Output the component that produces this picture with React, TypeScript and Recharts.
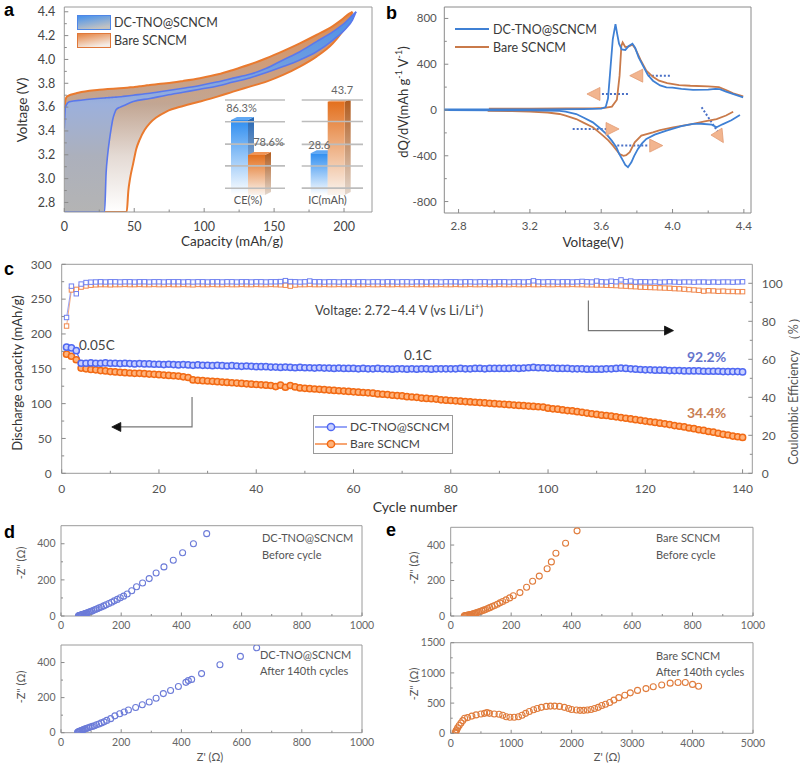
import React from 'react';
import {
  ComposedChart, BarChart, Area, Line, Bar, Scatter, XAxis, YAxis,
  ReferenceArea, ReferenceLine, Legend, LabelList,
} from 'recharts';

const FONT = 'Lato, "Open Sans", "DejaVu Sans", sans-serif';

// ---------------- Panel a: charge / discharge profiles ----------------
const aBareCap = [0, 0.8, 2, 10, 25, 44.6, 45.8, 47, 49.3, 51.5, 54, 57.5, 61.2, 66, 73, 85, 97, 110, 120.7, 132, 144.5, 156.4, 168.4, 180.3, 192, 198, 204, 206];
const aBareCharge = [3.5, 3.66, 3.69, 3.72, 3.745, 3.763, 3.764, 3.766, 3.767, 3.77, 3.775, 3.78, 3.786, 3.792, 3.8, 3.82, 3.843, 3.875, 3.912, 3.955, 4.01, 4.07, 4.135, 4.205, 4.28, 4.33, 4.387, 4.4];
const aBareDischarge = [2.72, 2.72, 2.72, 2.72, 2.72, 2.72, 2.9, 3.0, 3.13, 3.25, 3.33, 3.41, 3.466, 3.515, 3.563, 3.61, 3.647, 3.69, 3.73, 3.77, 3.814, 3.87, 3.94, 4.024, 4.135, 4.22, 4.33, 4.4];
const aDcCap = [0, 0.8, 3.6, 13, 28.8, 29.9, 31, 32.3, 33.5, 34.6, 36, 37, 40, 42.2, 49.3, 61.2, 73, 85, 97, 108.8, 120.7, 132.6, 144.5, 156.4, 168.4, 180.3, 192.1, 201.4, 206, 208.6];
const aDcCharge = [3.42, 3.6, 3.645, 3.66, 3.677, 3.678, 3.679, 3.68, 3.681, 3.682, 3.683, 3.684, 3.687, 3.69, 3.7, 3.717, 3.737, 3.759, 3.782, 3.81, 3.843, 3.875, 3.926, 3.996, 4.065, 4.149, 4.233, 4.316, 4.37, 4.4];
const aDcDischarge = [2.72, 2.72, 2.72, 2.72, 2.72, 3.048, 3.2, 3.326, 3.42, 3.494, 3.55, 3.577, 3.6, 3.611, 3.647, 3.672, 3.7, 3.725, 3.75, 3.775, 3.81, 3.845, 3.89, 3.94, 3.996, 4.065, 4.163, 4.26, 4.33, 4.4];
const aTicksX = [0, 25, 50, 75, 100, 125, 150, 175, 200];
const aMajorX = [0, 50, 100, 150, 200];
const aTicksY = [2.8, 2.9, 3.0, 3.1, 3.2, 3.3, 3.4, 3.5, 3.6, 3.7, 3.8, 3.9, 4.0, 4.1, 4.2, 4.3, 4.4];
const aMajorY = [2.8, 3.0, 3.2, 3.4, 3.6, 3.8, 4.0, 4.2, 4.4];

// insets
const ceCats = ['CE(%)'];
const ceDc = [86.3];
const ceBare = [78.6];
const ceGrid = [71.3, 76.2, 81.0, 85.9, 90.7];
const icCats = ['IC(mAh)'];
const icDc = [28.6];
const icBare = [43.7];
const icGrid = [18.4, 24.9, 31.2, 37.9, 44.2];

// ---------------- Panel b: dQ/dV ----------------
const bDcUpV = [2.72, 3.0, 3.3, 3.5, 3.6, 3.625, 3.638, 3.65, 3.665, 3.68, 3.69, 3.7, 3.715, 3.735, 3.755, 3.775, 3.79, 3.81, 3.834, 3.86, 3.89, 3.93, 3.966, 4.0, 4.05, 4.115, 4.2, 4.24, 4.265, 4.3, 4.35, 4.396];
const bDcUpQ = [5, 5, 6, 8, 12, 25, 100, 330, 620, 750, 660, 580, 530, 525, 560, 580, 545, 460, 387, 310, 256, 215, 198, 195, 185, 175, 178, 185, 183, 160, 135, 110];
const bDcLowV = [4.378, 4.33, 4.28, 4.247, 4.22, 4.16, 4.115, 4.05, 3.966, 3.9, 3.853, 3.83, 3.806, 3.785, 3.769, 3.75, 3.735, 3.722, 3.7, 3.685, 3.66, 3.628, 3.59, 3.553, 3.5, 3.46, 3.4, 3.366, 3.2, 3.0, 2.72];
const bDcLowQ = [-44, -90, -125, -151, -128, -120, -122, -140, -180, -215, -253, -290, -340, -400, -457, -500, -480, -442, -380, -326, -270, -209, -155, -108, -65, -35, -15, -8, -4, -2, -1];
const bBareUpV = [2.97, 3.2, 3.4, 3.55, 3.62, 3.66, 3.688, 3.703, 3.713, 3.72, 3.735, 3.755, 3.775, 3.79, 3.82, 3.853, 3.89, 3.924, 3.97, 4.037, 4.1, 4.2, 4.26, 4.3, 4.34, 4.396];
const bBareUpQ = [12, 12, 13, 15, 18, 30, 90, 300, 560, 590, 550, 555, 570, 540, 440, 343, 290, 256, 235, 218, 212, 207, 200, 175, 145, 120];
const bBareLowV = [4.34, 4.3, 4.247, 4.18, 4.115, 4.003, 3.93, 3.89, 3.825, 3.788, 3.76, 3.74, 3.725, 3.703, 3.685, 3.666, 3.64, 3.61, 3.58, 3.553, 3.5, 3.46, 3.4, 3.366, 3.3, 3.2, 3.1, 2.963];
const bBareLowQ = [-15, -48, -79, -100, -122, -151, -175, -195, -224, -282, -369, -395, -400, -385, -350, -311, -265, -224, -185, -151, -110, -79, -50, -35, -22, -14, -10, -8];
const bArrowLines = [
  [[3.75, 140], [3.59, 140]],
  [[3.985, 300], [3.855, 300]],
  [[3.44, -166], [3.63, -166]],
  [[3.69, -311], [3.87, -311]],
  [[4.163, 24], [4.256, -195]],
];
const bArrowHeads = [
  [3.52, 140, 180],
  [3.76, 300, 180],
  [3.7, -166, 0],
  [3.945, -311, 0],
  [4.285, -285, 58],
];
const bTicksX = [2.8, 3.0, 3.2, 3.4, 3.6, 3.8, 4.0, 4.2, 4.4];
const bMajorX = [2.8, 3.2, 3.6, 4.0, 4.4];
const bTicksY = [-800, -600, -400, -200, 0, 200, 400, 600, 800];
const bMajorY = [-800, -400, 0, 400, 800];

// ---------------- Panel c: cycling ----------------
const cCycles = Array.from({ length: 140 }, (_, i) => i + 1);
const cDcCap = [
  181, 180, 176, 158, 158, 158.5, 158, 158, 158.5, 158,
  158, 157.5, 158, 157.5, 157, 157.5, 157, 157, 156.5, 156.5,
  156, 156.5, 156, 155.5, 156, 155.5, 155, 155.5, 155, 155,
  154.5, 155, 154.5, 154, 154.5, 154, 153.5, 154, 153.5, 153,
  153, 153, 152.5, 152.5, 152, 152.5, 152, 151.5, 152, 151.5,
  151.5, 151, 151.5, 151, 151, 150.5, 151, 150.5, 150.5, 150.5,
  150, 150.5, 150, 150, 150.5, 150, 150, 149.5, 150, 150,
  149.5, 150, 149.5, 150, 150, 149.5, 150, 150, 150, 150,
  150, 150.5, 150, 150, 150.5, 150.5, 150, 150.5, 150.5, 150.5,
  150.5, 150.5, 151, 150.5, 151, 151.5, 152, 151.5, 151.5, 151,
  151, 150.5, 150.5, 150.5, 150, 150, 150, 149.5, 149.5, 149.5,
  149.5, 150, 150, 150.5, 151, 150.5, 150, 149.5, 149, 148.5,
  148.5, 148, 148, 148, 147.5, 147.5, 147.5, 147, 147, 147,
  147, 146.5, 146.5, 146.5, 146.5, 146, 146, 146, 146, 145.5,
];
const cBareCap = [
  171, 168, 163, 151, 150, 149, 148.5, 147.5, 147, 146,
  145.5, 145, 144.5, 144, 143.5, 143.5, 143, 142.5, 142, 141.5,
  141, 140.5, 140, 139.5, 138.5, 137.5, 134, 133.5, 133, 132.5,
  132, 131.5, 131, 130.5, 130, 129.5, 129, 128.5, 128, 127.5,
  127, 126.5, 126, 124.5, 126.5, 123.5, 126, 124, 122.5, 122,
  121.5, 121, 120.5, 120, 119.5, 119, 118.5, 118, 117.5, 117,
  116.5, 116, 115.5, 115, 114, 113.5, 113, 112, 111.5, 111,
  110, 109.5, 109, 108, 107.5, 107, 106.5, 105.5, 105, 104.5,
  104, 103.5, 103, 102.5, 102, 101.5, 101, 100.5, 100, 99.5,
  99, 98.5, 98, 97.5, 97, 96.5, 96, 95.5, 95, 93.5,
  92.5, 92, 91, 90, 89.5, 88.5, 87.5, 86.5, 85.5, 84.5,
  83.5, 83, 82, 81, 80, 79, 78, 77, 76, 75,
  74, 73, 72, 71, 70, 68.5, 67.5, 66.5, 65, 64,
  62.5, 61.5, 60, 59, 57.5, 56, 55, 53.5, 52.5, 51.5,
];
const cDcCE = [
  82.0, 98.5, 94.5, 99.6, 100.4, 100.6, 100.7, 100.8, 100.7, 100.8,
  100.8, 100.7, 100.8, 100.8, 100.7, 100.8, 100.8, 100.7, 100.8, 100.8,
  100.7, 100.8, 100.8, 100.8, 100.7, 100.8, 100.7, 100.8, 100.8, 100.7,
  100.8, 100.8, 100.7, 100.8, 100.8, 100.7, 100.8, 100.8, 100.7, 100.8,
  100.8, 100.7, 100.8, 100.8, 100.9, 101.4, 100.9, 100.8, 100.7, 100.8,
  101.2, 100.8, 100.8, 100.7, 100.8, 100.8, 100.7, 100.8, 100.8, 100.7,
  100.8, 100.8, 100.7, 100.8, 100.8, 100.7, 100.8, 100.8, 100.7, 100.8,
  100.8, 100.7, 100.8, 100.8, 100.7, 100.8, 100.8, 100.7, 100.8, 100.8,
  100.8, 100.7, 100.8, 100.8, 100.7, 100.8, 100.8, 100.7, 100.8, 100.8,
  100.8, 100.7, 100.8, 100.8, 100.7, 100.8, 101.3, 100.8, 100.7, 100.8,
  100.8, 100.7, 100.8, 100.8, 100.7, 100.8, 101.0, 100.8, 100.7, 101.2,
  100.8, 100.7, 101.1, 100.8, 101.8, 100.9, 101.2, 100.7, 100.8, 100.8,
  100.7, 100.8, 100.6, 100.7, 100.8, 100.7, 100.6, 100.7, 100.7, 100.6,
  100.7, 100.7, 100.6, 100.7, 100.6, 100.7, 100.7, 100.6, 100.7, 100.8,
];
const cBareCE = [
  77.5, 96.5, 96.8, 98.0, 98.6, 99.0, 99.2, 99.3, 99.3, 99.2,
  99.3, 99.3, 99.4, 99.3, 99.3, 99.4, 99.3, 99.3, 99.4, 99.3,
  99.3, 99.4, 99.3, 99.3, 99.4, 99.3, 99.2, 99.4, 99.3, 99.3,
  99.4, 99.3, 99.3, 99.4, 99.3, 99.3, 99.4, 99.3, 99.3, 99.4,
  99.3, 99.3, 99.4, 99.3, 99.2, 99.0, 98.5, 99.1, 99.3, 99.3,
  99.4, 99.3, 99.3, 99.4, 99.3, 99.3, 99.4, 99.3, 99.3, 99.4,
  99.3, 99.3, 99.4, 99.3, 99.3, 99.4, 99.3, 99.3, 99.4, 99.3,
  99.3, 99.4, 99.3, 99.3, 99.4, 99.3, 99.3, 99.4, 99.3, 99.3,
  99.4, 99.3, 99.3, 99.4, 99.3, 99.3, 99.4, 99.3, 99.3, 99.4,
  99.3, 99.3, 99.4, 99.3, 99.3, 99.4, 99.3, 99.3, 99.4, 99.3,
  99.3, 99.4, 99.3, 99.3, 99.4, 99.3, 99.3, 99.2, 99.2, 99.1,
  99.1, 99.0, 98.9, 98.8, 98.6, 98.5, 98.3, 98.2, 98.0, 97.9,
  97.8, 97.7, 97.6, 97.5, 97.4, 97.2, 97.1, 96.9, 96.7, 96.5,
  96.3, 95.9, 96.1, 96.0, 95.8, 95.9, 95.7, 95.7, 95.6, 95.6,
];
const cArrowLeft = [[26.8, 109.5], [26.8, 66.5], [12, 66.5]];
const cArrowLeftHead = [[10.3, 66.5, 180]];
const cArrowRight = [[108.3, 90.9], [108.3, 75.1], [124, 75.1]];
const cArrowRightHead = [[125.8, 75.1, 0]];
const cTicksX = [0, 10, 20, 30, 40, 50, 60, 70, 80, 90, 100, 110, 120, 130, 140];
const cMajorX = [0, 20, 40, 60, 80, 100, 120, 140];
const cTicksL = [0, 25, 50, 75, 100, 125, 150, 175, 200, 225, 250, 275, 300];
const cMajorL = [0, 50, 100, 150, 200, 250, 300];
const cTicksR = [0, 10, 20, 30, 40, 50, 60, 70, 80, 90, 100];
const cMajorR = [0, 20, 40, 60, 80, 100];

// ---------------- Panels d / e: EIS ----------------
const dBeforeRe = [58, 60, 62, 64, 66, 68, 70, 72, 74, 77, 80, 83, 86, 90, 94, 98, 103, 108, 114, 120, 127, 134, 142, 150, 159, 168, 177, 187, 197, 208, 220, 235, 251, 271, 293, 316, 342, 373, 404, 440, 484];
const dBeforeIm = [1, 2, 3, 4, 5, 6, 7, 8, 9, 11, 13, 15, 17, 19, 22, 25, 28, 32, 36, 40, 45, 50, 56, 62, 69, 76, 84, 92, 101, 110, 122, 140, 162, 183, 207, 238, 272, 309, 350, 400, 456];
const dAfterRe = [55, 57, 59, 61, 64, 67, 70, 73, 77, 81, 86, 91, 97, 104, 111, 118, 126, 134, 143, 152, 165, 179, 195, 210, 224, 248, 270, 293, 316, 340, 364, 390, 415, 423, 434, 467, 528, 596, 650];
const dAfterIm = [2, 4, 6, 8, 10, 12, 14, 16, 19, 22, 25, 28, 32, 36, 40, 45, 50, 56, 62, 70, 80, 96, 108, 118, 129, 144, 159, 175, 196, 223, 241, 263, 287, 297, 304, 337, 387, 435, 484];
const eBeforeRe = [45, 48, 51, 54, 57, 60, 63, 66, 70, 74, 78, 82, 87, 92, 97, 103, 109, 115, 122, 129, 137, 145, 154, 163, 172, 183, 195, 207, 229, 251, 271, 293, 319, 333, 348, 380, 418];
const eBeforeIm = [1, 2, 3, 4, 5, 6, 7, 8, 10, 12, 14, 16, 19, 22, 25, 29, 33, 37, 42, 47, 53, 59, 66, 74, 82, 91, 102, 114, 132, 162, 196, 225, 266, 305, 354, 410, 480];
const eAfterRe = [75, 80, 90, 100, 115, 140, 170, 200, 230, 280, 350, 420, 500, 560, 600, 640, 720, 800, 860, 920, 980, 1050, 1120, 1180, 1240, 1300, 1370, 1430, 1500, 1580, 1650, 1720, 1800, 1880, 1950, 2000, 2080, 2140, 2200, 2260, 2320, 2380, 2440, 2500, 2560, 2630, 2700, 2780, 2880, 2970, 3090, 3230, 3350, 3490, 3630, 3760, 3880, 4000, 4100];
const eAfterIm = [5, 20, 40, 60, 90, 130, 170, 210, 250, 260, 285, 305, 320, 330, 345, 330, 320, 315, 300, 275, 265, 265, 275, 300, 330, 360, 390, 410, 430, 445, 450, 450, 445, 430, 410, 395, 385, 380, 380, 385, 395, 410, 430, 460, 480, 510, 550, 590, 630, 670, 710, 740, 770, 800, 830, 840, 840, 810, 780];
const zTicks1k = [0, 100, 200, 300, 400, 500, 600, 700, 800, 900, 1000];
const zMajor1k = [0, 200, 400, 600, 800, 1000];
const zTicks5k = [0, 500, 1000, 1500, 2000, 2500, 3000, 3500, 4000, 4500, 5000];
const zMajor5k = [0, 1000, 2000, 3000, 4000, 5000];
const zTicksY500 = [0, 100, 200, 300, 400];
const zMajorY500 = [0, 200, 400];
const zTicksY1500 = [0, 250, 500, 750, 1000, 1250, 1500];
const zMajorY1500 = [0, 500, 1000, 1500];

// ---------------- helpers ----------------
type TickOpt = {
  orient: 'bottom' | 'left' | 'right';
  majors: number[];
  fs: number;
  color: string;
  gap: number;
  fmt?: (v: number) => string;
  major?: number;
  minor?: number;
  line?: string;
};
const mkTick = (o: TickOpt) => (p: any) => {
  const v = Number(p.payload.value);
  const isMaj = o.majors.some((m) => Math.abs(m - v) < 1e-6);
  const len = isMaj ? (o.major ?? 4) : (o.minor ?? 2.5);
  const lab = isMaj ? (o.fmt ? o.fmt(v) : String(v)) : '';
  const lc = o.line ?? '#8a8a8a';
  const x = p.x;
  const y = p.y;
  const common = { fontSize: o.fs, fill: o.color, fontFamily: FONT } as any;
  if (o.orient === 'bottom') {
    return (
      <g>
        <line x1={x} y1={y} x2={x} y2={y - len} stroke={lc} strokeWidth={1} />
        {lab && <text x={x} y={y + o.gap} dy="0.71em" textAnchor="middle" {...common}>{lab}</text>}
      </g>
    );
  }
  if (o.orient === 'left') {
    return (
      <g>
        <line x1={x} y1={y} x2={x + len} y2={y} stroke={lc} strokeWidth={1} />
        {lab && <text x={x - o.gap} y={y} dy="0.35em" textAnchor="end" {...common}>{lab}</text>}
      </g>
    );
  }
  return (
    <g>
      <line x1={x} y1={y} x2={x - len} y2={y} stroke={lc} strokeWidth={1} />
      {lab && <text x={x + o.gap} y={y} dy="0.35em" textAnchor="start" {...common}>{lab}</text>}
    </g>
  );
};
const axisBase = { tickLine: false, axisLine: false, tickSize: 0, tickMargin: 0, interval: 0 as const, allowDataOverflow: true };

const arrowShape = (fill: string, stroke: string, L: number, W: number) => (p: any) => {
  const a = (p.payload.ang * Math.PI) / 180;
  const c = Math.cos(a);
  const s = Math.sin(a);
  const pt = (dx: number, dy: number) => `${p.cx + dx * c - dy * s},${p.cy + dx * s + dy * c}`;
  return <polygon points={`${pt(0, 0)} ${pt(-L, -W)} ${pt(-L, W)}`} fill={fill} stroke={stroke} strokeWidth={0.8} />;
};

const ringShape = (stroke: string, r: number) => (p: any) => (
  <circle cx={p.cx} cy={p.cy} r={r} fill="none" stroke={stroke} strokeWidth={1.1} />
);

const At = ({ x, y, children }: { x: number; y: number; children: React.ReactNode }) => (
  <div style={{ position: 'absolute', left: x, top: y }}>{children}</div>
);

// ---------------- Panel a ----------------
const aBareData = aBareCap.map((x, i) => ({ x, v: [aBareDischarge[i], aBareCharge[i]] }));
const aDcData = aDcCap.map((x, i) => ({ x, v: [aDcDischarge[i], aDcCharge[i]] }));

const aLegend = () => (
  <div style={{ fontFamily: FONT, fontSize: 12.5, color: '#3a3a3a' }}>
    {[
      ['DC-TNO@SCNCM', 'url(#lgBl)', '#4f86e6'],
      ['Bare SCNCM', 'url(#lgOr)', '#e0783a'],
    ].map(([t, f, s], i) => (
      <div key={t} style={{ display: 'flex', alignItems: 'center', height: 15, marginTop: i === 0 ? 0 : 3 }}>
        <svg width={34} height={15} style={{ display: 'block' }}>
          <defs>
            <linearGradient id="lgBl" x1="0" y1="0" x2="0.4" y2="1">
              <stop offset="0" stopColor="#3f8ff0" />
              <stop offset="1" stopColor="#c2c2c2" />
            </linearGradient>
            <linearGradient id="lgOr" x1="0" y1="0" x2="0.4" y2="1">
              <stop offset="0" stopColor="#e5803c" />
              <stop offset="1" stopColor="#f4ece6" />
            </linearGradient>
          </defs>
          <rect x={0.5} y={0.5} width={33} height={14} fill={f} stroke={s} strokeWidth={1} />
        </svg>
        <span style={{ marginLeft: 3 }}>{t}</span>
      </div>
    ))}
  </div>
);

function PanelA() {
  return (
    <ComposedChart width={380} height={250} margin={{ top: 7, right: 8, left: 0, bottom: 0 }}>
      <defs>
        <linearGradient id="gOr" x1="0" y1="0" x2="0" y2="1">
          <stop offset="0" stopColor="#dc8a50" />
          <stop offset="0.25" stopColor="#d09c78" />
          <stop offset="0.46" stopColor="#c2a693" />
          <stop offset="0.72" stopColor="#e4dad4" />
          <stop offset="1" stopColor="#ffffff" />
        </linearGradient>
        <linearGradient id="gBl" x1="0" y1="0" x2="0" y2="1">
          <stop offset="0" stopColor="#4a8ee8" />
          <stop offset="0.25" stopColor="#6d9de0" />
          <stop offset="0.46" stopColor="#9cb0dc" />
          <stop offset="0.72" stopColor="#acb0bc" />
          <stop offset="1" stopColor="#b4b4b4" />
        </linearGradient>
      </defs>
      <XAxis type="number" dataKey="x" domain={[0, 220]} ticks={aTicksX} height={38} {...axisBase}
        tick={mkTick({ orient: 'bottom', majors: aMajorX, fs: 12.5, color: '#444', gap: 10 })} />
      <YAxis type="number" domain={[2.72, 4.44]} ticks={aTicksY} width={64.3} {...axisBase}
        tick={mkTick({ orient: 'left', majors: aMajorY, fs: 12.5, color: '#444', gap: 9, fmt: (v) => v.toFixed(1) })} />
      <Area data={aBareData} dataKey="v" type="monotone" fill="url(#gOr)" fillOpacity={1} stroke="#ea7a2e" strokeWidth={2} isAnimationActive={false} />
      <Area data={aDcData} dataKey="v" type="monotone" fill="url(#gBl)" fillOpacity={1} stroke="#5a78ec" strokeWidth={1.6} isAnimationActive={false} />
      <ReferenceArea x1={0} x2={220} y1={2.72} y2={4.44} fill="none" stroke="#9a9a9a" ifOverflow="visible" />
      <Legend content={aLegend} wrapperStyle={{ left: 77, top: 15, width: 160 }} layout="vertical" align="center" verticalAlign="middle" />
    </ComposedChart>
  );
}

const bar3d = (front: string, side: string, top: string) => (p: any) => {
  const { x, y, width: w, height: h } = p;
  const d = 6;
  const e = 3;
  return (
    <g>
      <polygon points={`${x + w},${y} ${x + w + d},${y - e} ${x + w + d},${y + h - e} ${x + w},${y + h}`} fill={`url(#${side})`} />
      <polygon points={`${x},${y} ${x + d},${y - e} ${x + w + d},${y - e} ${x + w},${y}`} fill={top} />
      <rect x={x} y={y} width={w} height={h} fill={`url(#${front})`} />
    </g>
  );
};

function Inset3D(props: {
  id: string; cats: string[]; dc: number[]; bare: number[]; grid: number[]; domain: [number, number];
  width: number; ml: number; mr: number; padRight: number; fmt: (v: number) => string;
  lab: [number, number, number, number];
}) {
  const data = props.cats.map((name, i) => ({ name, dc: props.dc[i], bare: props.bare[i] }));
  const [bdx, bdy, odx, ody] = props.lab;
  const id = props.id;
  return (
    <BarChart width={props.width} height={135} data={data} margin={{ top: 25, right: props.mr, left: props.ml, bottom: 0 }} barGap={0}>
      <defs>
        <linearGradient id={`${id}bf`} x1="0" y1="0" x2="0" y2="1">
          <stop offset="0" stopColor="#2f8ef0" />
          <stop offset="1" stopColor="#ffffff" />
        </linearGradient>
        <linearGradient id={`${id}bs`} x1="0" y1="0" x2="0" y2="1">
          <stop offset="0" stopColor="#2466b4" />
          <stop offset="1" stopColor="#d4d8de" />
        </linearGradient>
        <linearGradient id={`${id}of`} x1="0" y1="0" x2="0" y2="1">
          <stop offset="0" stopColor="#e3701e" />
          <stop offset="1" stopColor="#faf4ef" />
        </linearGradient>
        <linearGradient id={`${id}os`} x1="0" y1="0" x2="0" y2="1">
          <stop offset="0" stopColor="#b05a1c" />
          <stop offset="1" stopColor="#e2d6cc" />
        </linearGradient>
      </defs>
      <XAxis dataKey="name" type="category" height={15} tickLine={false} axisLine={false} tickSize={0} tickMargin={1}
        padding={{ left: 0, right: props.padRight }} tick={{ fontSize: 11, fill: '#555', fontFamily: FONT }} />
      <YAxis hide domain={props.domain} allowDataOverflow />
      {props.grid.map((g) => (
        <ReferenceLine key={g} y={g} stroke="#bcbcbc" strokeWidth={1.6} />
      ))}
      <Bar dataKey="dc" barSize={17} shape={bar3d(`${id}bf`, `${id}bs`, '#60a8f4')} isAnimationActive={false}>
        <LabelList dataKey="dc" content={(p: any) => (
          <text x={p.x + p.width / 2 + bdx} y={p.y - bdy} textAnchor="middle" fontSize={11} fill="#666" fontFamily={FONT}>{props.fmt(p.value)}</text>
        )} />
      </Bar>
      <Bar dataKey="bare" barSize={17} shape={bar3d(`${id}of`, `${id}os`, '#f09456')} isAnimationActive={false}>
        <LabelList dataKey="bare" content={(p: any) => (
          <text x={p.x + p.width / 2 + odx} y={p.y - ody} textAnchor="middle" fontSize={11} fill="#666" fontFamily={FONT}>{props.fmt(p.value)}</text>
        )} />
      </Bar>
    </BarChart>
  );
}

// ---------------- Panel b ----------------
const toVQ = (v: number[], q: number[]) => v.map((x, i) => ({ v: x, q: q[i] }));
const bDcUp = toVQ(bDcUpV, bDcUpQ);
const bDcLow = toVQ(bDcLowV, bDcLowQ);
const bBareUp = toVQ(bBareUpV, bBareUpQ);
const bBareLow = toVQ(bBareLowV, bBareLowQ);
const bHeads = bArrowHeads.map(([v, q, ang]) => ({ v, q, ang }));
const B_BLUE = '#3f80d4';
const B_ORANGE = '#c97a4a';

const bLegend = () => (
  <div style={{ fontFamily: FONT, fontSize: 12.5, color: '#3a3a3a' }}>
    {[
      ['DC-TNO@SCNCM', B_BLUE],
      ['Bare SCNCM', B_ORANGE],
    ].map(([t, c]) => (
      <div key={t} style={{ display: 'flex', alignItems: 'center', height: 18 }}>
        <svg width={34} height={10} style={{ display: 'block' }}>
          <line x1={0} y1={5} x2={34} y2={5} stroke={c} strokeWidth={2} />
        </svg>
        <span style={{ marginLeft: 4 }}>{t}</span>
      </div>
    ))}
  </div>
);

function PanelB() {
  return (
    <ComposedChart width={424} height={250} margin={{ top: 7, right: 49, left: 0, bottom: 0 }}>
      <XAxis type="number" dataKey="v" domain={[2.72, 4.44]} ticks={bTicksX} height={37} {...axisBase}
        tick={mkTick({ orient: 'bottom', majors: bMajorX, fs: 11.5, color: '#555', gap: 9, fmt: (v) => v.toFixed(1) })} />
      <YAxis type="number" domain={[-900, 900]} ticks={bTicksY} width={68.3} {...axisBase}
        tick={mkTick({ orient: 'left', majors: bMajorY, fs: 11.5, color: '#555', gap: 7.5 })} />
      <ReferenceArea x1={2.72} x2={4.44} y1={-900} y2={900} fill="none" stroke="#8a8a8a" ifOverflow="visible" />
      {bArrowLines.map((seg, i) => (
        <Line key={`al${i}`} data={seg.map(([v, q]) => ({ v, q }))} dataKey="q" stroke="#4a70c6" strokeWidth={2}
          strokeDasharray="2 2" dot={false} isAnimationActive={false} />
      ))}
      <Line data={bBareUp} dataKey="q" stroke={B_ORANGE} strokeWidth={1.8} dot={false} isAnimationActive={false} />
      <Line data={bBareLow} dataKey="q" stroke={B_ORANGE} strokeWidth={1.8} dot={false} isAnimationActive={false} />
      <Line data={bDcUp} dataKey="q" stroke={B_BLUE} strokeWidth={1.8} dot={false} isAnimationActive={false} />
      <Line data={bDcLow} dataKey="q" stroke={B_BLUE} strokeWidth={1.8} dot={false} isAnimationActive={false} />
      <Scatter data={bHeads} dataKey="q" shape={arrowShape('#f2b58f', '#e29a72', 13, 6.5)} isAnimationActive={false} />
      <Legend content={bLegend} wrapperStyle={{ left: 79, top: 20, width: 150 }} layout="vertical" align="center" verticalAlign="middle" />
    </ComposedChart>
  );
}

// ---------------- Panel c ----------------
const cData = cCycles.map((c, i) => ({ cycle: c, dcCap: cDcCap[i], bareCap: cBareCap[i], dcCE: cDcCE[i], bareCE: cBareCE[i] }));
const toCV = (pts: number[][]) => pts.map(([cycle, v]) => ({ cycle, v }));
const toHead = (pts: number[][]) => pts.map(([cycle, v, ang]) => ({ cycle, v, ang }));
const C_BLUE = '#5068f2';
const C_ORANGE = '#f26a14';

const circleDot = (stroke: string, fill: string) => (p: any) => (
  <circle key={`c${p.index}`} cx={p.cx} cy={p.cy} r={3.1} fill={fill} stroke={stroke} strokeWidth={1.5} />
);
const squareDot = (stroke: string) => (p: any) => (
  <rect key={`s${p.index}`} x={p.cx - 2.2} y={p.cy - 2.2} width={4.4} height={4.4} fill="#ffffff" stroke={stroke} strokeWidth={1} />
);

const cLegend = () => (
  <div style={{ border: '1px solid #9a9a9a', width: 138, height: 37, background: '#fff', fontFamily: FONT, fontSize: 12, color: '#444' }}>
    {[
      ['DC-TNO@SCNCM', C_BLUE, '#c9d1ff'],
      ['Bare SCNCM', C_ORANGE, '#ffb27a'],
    ].map(([t, s, f], i) => (
      <div key={t} style={{ display: 'flex', alignItems: 'center', height: 17, marginTop: i === 0 ? 2 : 0 }}>
        <svg width={34} height={12} style={{ display: 'block' }}>
          <line x1={1} y1={6} x2={33} y2={6} stroke={s} strokeWidth={1.2} />
          <circle cx={17} cy={6} r={3.6} fill={f} stroke={s} strokeWidth={1.5} />
        </svg>
        <span style={{ marginLeft: 2 }}>{t}</span>
      </div>
    ))}
  </div>
);

function PanelC() {
  return (
    <ComposedChart width={800} height={262} data={cData} margin={{ top: 14.3, right: 0, left: 0, bottom: 0 }}>
      <XAxis type="number" dataKey="cycle" domain={[0, 142]} ticks={cTicksX} height={38.7} {...axisBase}
        tick={mkTick({ orient: 'bottom', majors: cMajorX, fs: 12, color: '#555', gap: 11 })} />
      <YAxis yAxisId="left" type="number" domain={[0, 300]} ticks={cTicksL} width={61.7} {...axisBase}
        tick={mkTick({ orient: 'left', majors: cMajorL, fs: 12, color: '#555', gap: 10 })} />
      <YAxis yAxisId="right" orientation="right" type="number" domain={[0, 110]} ticks={cTicksR} width={47.7} {...axisBase}
        tick={mkTick({ orient: 'right', majors: cMajorR, fs: 12, color: '#555', gap: 9.5 })} />
      <ReferenceArea yAxisId="left" x1={0} x2={142} y1={0} y2={300} fill="none" stroke="#9a9a9a" ifOverflow="visible" />
      <Line yAxisId="right" dataKey="bareCE" stroke="#f3935e" strokeWidth={0.8} dot={squareDot('#f0884e')} isAnimationActive={false} />
      <Line yAxisId="right" dataKey="dcCE" stroke="#7c8cf2" strokeWidth={0.8} dot={squareDot('#6f80f0')} isAnimationActive={false} />
      <Line yAxisId="left" dataKey="bareCap" stroke={C_ORANGE} strokeWidth={1.2} dot={circleDot(C_ORANGE, '#ffb27a')} isAnimationActive={false} />
      <Line yAxisId="left" dataKey="dcCap" stroke={C_BLUE} strokeWidth={1.2} dot={circleDot(C_BLUE, '#c9d1ff')} isAnimationActive={false} />
      <Line yAxisId="left" data={toCV(cArrowLeft)} dataKey="v" stroke="#777" strokeWidth={1.2} dot={false} isAnimationActive={false} />
      <Scatter yAxisId="left" data={toHead(cArrowLeftHead)} dataKey="v" shape={arrowShape('#111', '#111', 9, 4.5)} isAnimationActive={false} />
      <Line yAxisId="right" data={toCV(cArrowRight)} dataKey="v" stroke="#777" strokeWidth={1.2} dot={false} isAnimationActive={false} />
      <Scatter yAxisId="right" data={toHead(cArrowRightHead)} dataKey="v" shape={arrowShape('#111', '#111', 9, 4.5)} isAnimationActive={false} />
      <Legend content={cLegend} wrapperStyle={{ left: 313, top: 165, width: 140 }} layout="vertical" align="center" verticalAlign="middle" />
    </ComposedChart>
  );
}

// ---------------- Panels d / e ----------------
const toZ = (re: number[], im: number[]) => re.map((zr, i) => ({ zr, zi: im[i] }));

function EisChart(props: {
  width: number; height: number; mt: number; yw: number; mr: number; xh: number;
  xDomain: [number, number]; xTicks: number[]; xMajor: number[];
  yDomain: [number, number]; yTicks: number[]; yMajor: number[];
  re: number[]; im: number[]; color: string;
}) {
  return (
    <ComposedChart width={props.width} height={props.height} margin={{ top: props.mt, right: props.mr, left: 0, bottom: 0 }}>
      <XAxis type="number" dataKey="zr" domain={props.xDomain} ticks={props.xTicks} height={props.xh} {...axisBase}
        tick={mkTick({ orient: 'bottom', majors: props.xMajor, fs: 10.5, color: '#666', gap: 6, major: 3.5, minor: 2 })} />
      <YAxis type="number" domain={props.yDomain} ticks={props.yTicks} width={props.yw} {...axisBase}
        tick={mkTick({ orient: 'left', majors: props.yMajor, fs: 10.5, color: '#666', gap: 5.5, major: 3.5, minor: 2 })} />
      <ReferenceArea x1={props.xDomain[0]} x2={props.xDomain[1]} y1={props.yDomain[0]} y2={props.yDomain[1]} fill="none" stroke="#9a9a9a" ifOverflow="visible" />
      <Scatter data={toZ(props.re, props.im)} dataKey="zi" shape={ringShape(props.color, 3)} isAnimationActive={false} />
    </ComposedChart>
  );
}

// ---------------- overlay text ----------------
const T = (p: { x: number; y: number; s?: number; c?: string; a?: 'start' | 'middle' | 'end'; rot?: boolean; w?: number | string; f?: string; children: React.ReactNode }) => (
  <text
    x={p.rot ? 0 : p.x}
    y={p.rot ? 0 : p.y}
    transform={p.rot ? `translate(${p.x},${p.y}) rotate(-90)` : undefined}
    textAnchor={p.a ?? 'start'}
    dominantBaseline={p.rot ? 'central' : undefined}
    fontSize={p.s ?? 13}
    fill={p.c ?? '#333'}
    fontWeight={p.w ?? 'normal'}
    fontFamily={p.f ?? FONT}
  >
    {p.children}
  </text>
);

function Overlay() {
  const L = 'Arial, "Liberation Sans", sans-serif';
  return (
    <svg width={800} height={767} style={{ position: 'absolute', left: 0, top: 0, pointerEvents: 'none' }}>
      <T x={4} y={16} s={18} w="bold" c="#000" f={L}>a</T>
      <T x={386} y={19} s={18} w="bold" c="#000" f={L}>b</T>
      <T x={4} y={275} s={18} w="bold" c="#000" f={L}>c</T>
      <T x={4} y={538} s={18} w="bold" c="#000" f={L}>d</T>
      <T x={386} y={536} s={18} w="bold" c="#000" f={L}>e</T>

      <T x={22} y={110} s={13.5} c="#333" a="middle" rot>Voltage (V)</T>
      <T x={232} y={246} s={13.5} c="#333" a="middle">Capacity (mAh/g)</T>

      <text transform="translate(403,102) rotate(-90)" textAnchor="middle" dominantBaseline="central" fontSize={13} fill="#333" fontFamily={FONT}>
        dQ/dV(mAh g<tspan dy={-5} fontSize={9}>-1</tspan><tspan dy={5}> V</tspan><tspan dy={-5} fontSize={9}>-1</tspan><tspan dy={5}>)</tspan>
      </text>
      <T x={593} y={247} s={13.5} c="#333" a="middle">Voltage(V)</T>

      <T x={17} y={373} s={13} c="#333" a="middle" rot>Discharge capacity (mAh/g)</T>
      <T x={793} y={388} s={12.5} c="#555" a="middle" rot>Coulombic Efficiency （%）</T>
      <T x={415} y={512} s={14} c="#333" a="middle">Cycle number</T>
      <text x={315} y={315} fontSize={13} fill="#444" fontFamily={FONT}>
        Voltage: 2.72–4.4 V (vs Li/Li<tspan dy={-5} fontSize={9}>+</tspan><tspan dy={5}>)</tspan>
      </text>
      <T x={79} y={350} s={13.5} c="#444">0.05C</T>
      <T x={404} y={360} s={13.5} c="#444">0.1C</T>
      <T x={687} y={362} s={14} c="#6675cc" w="bold">92.2%</T>
      <T x={687} y={418} s={14} c="#c97f55" w="bold">34.4%</T>

      <T x={20} y={563} s={11} c="#555" a="middle" rot>-Z'' (Ω)</T>
      <T x={20} y={687} s={11} c="#555" a="middle" rot>-Z'' (Ω)</T>
      <T x={210} y={761} s={11} c="#555" a="middle">Z' (Ω)</T>
      <T x={262} y={542} s={11} c="#555">DC-TNO@SCNCM</T>
      <T x={262} y={559} s={11} c="#555">Before cycle</T>
      <T x={260} y={659} s={11} c="#555">DC-TNO@SCNCM</T>
      <T x={260} y={675} s={11} c="#555">After 140th cycles</T>

      <T x={413} y={568} s={11} c="#555" a="middle" rot>-Z'' (Ω)</T>
      <T x={413} y={684} s={11} c="#555" a="middle" rot>-Z'' (Ω)</T>
      <T x={607} y={761} s={11} c="#555" a="middle">Z' (Ω)</T>
      <T x={656} y={542} s={11} c="#555">Bare SCNCM</T>
      <T x={656} y={559} s={11} c="#555">Before cycle</T>
      <T x={656} y={660} s={11} c="#555">Bare SCNCM</T>
      <T x={656} y={676} s={11} c="#555">After 140th cycles</T>
    </svg>
  );
}

export default function App() {
  return (
    <div style={{ position: 'absolute', left: 0, top: 0, width: 800, height: 767, background: '#fff', fontFamily: FONT, overflow: 'hidden' }}>
      <At x={0} y={0}><PanelA /></At>
      <At x={215} y={75}>
        <Inset3D id="ce" cats={ceCats} dc={ceDc} bare={ceBare} grid={ceGrid} domain={[69.8, 90.7]}
          width={80} ml={10} mr={10} padRight={14} fmt={(v) => `${v}%`} lab={[2, 8.5, 12, 9]} />
      </At>
      <At x={292} y={75}>
        <Inset3D id="ic" cats={icCats} dc={icDc} bare={icBare} grid={icGrid} domain={[16.4, 44.2]}
          width={76} ml={9.7} mr={5} padRight={9.7} fmt={(v) => `${v}`} lab={[0, 4.5, 6, 7.7]} />
      </At>
      <At x={376} y={0}><PanelB /></At>
      <At x={0} y={250}><PanelC /></At>
      <At x={0} y={515}>
        <EisChart width={400} height={121} mt={10.7} yw={61} mr={38} xh={20} xDomain={[0, 1000]} xTicks={zTicks1k} xMajor={zMajor1k}
          yDomain={[0, 500]} yTicks={zTicksY500} yMajor={zMajorY500} re={dBeforeRe} im={dBeforeIm} color="#6c7bd8" />
      </At>
      <At x={0} y={635}>
        <EisChart width={400} height={132} mt={10} yw={61} mr={38} xh={34.3} xDomain={[0, 1000]} xTicks={zTicks1k} xMajor={zMajor1k}
          yDomain={[0, 500]} yTicks={zTicksY500} yMajor={zMajorY500} re={dAfterRe} im={dAfterIm} color="#6c7bd8" />
      </At>
      <At x={400} y={515}>
        <EisChart width={400} height={121} mt={12.3} yw={50.7} mr={47} xh={20} xDomain={[0, 1000]} xTicks={zTicks1k} xMajor={zMajor1k}
          yDomain={[0, 500]} yTicks={zTicksY500} yMajor={zMajorY500} re={eBeforeRe} im={eBeforeIm} color="#e07c3c" />
      </At>
      <At x={400} y={632}>
        <EisChart width={400} height={135} mt={10.7} yw={50.7} mr={47} xh={33.7} xDomain={[0, 5000]} xTicks={zTicks5k} xMajor={zMajor5k}
          yDomain={[0, 1500]} yTicks={zTicksY1500} yMajor={zMajorY1500} re={eAfterRe} im={eAfterIm} color="#e07c3c" />
      </At>
      <Overlay />
    </div>
  );
}
